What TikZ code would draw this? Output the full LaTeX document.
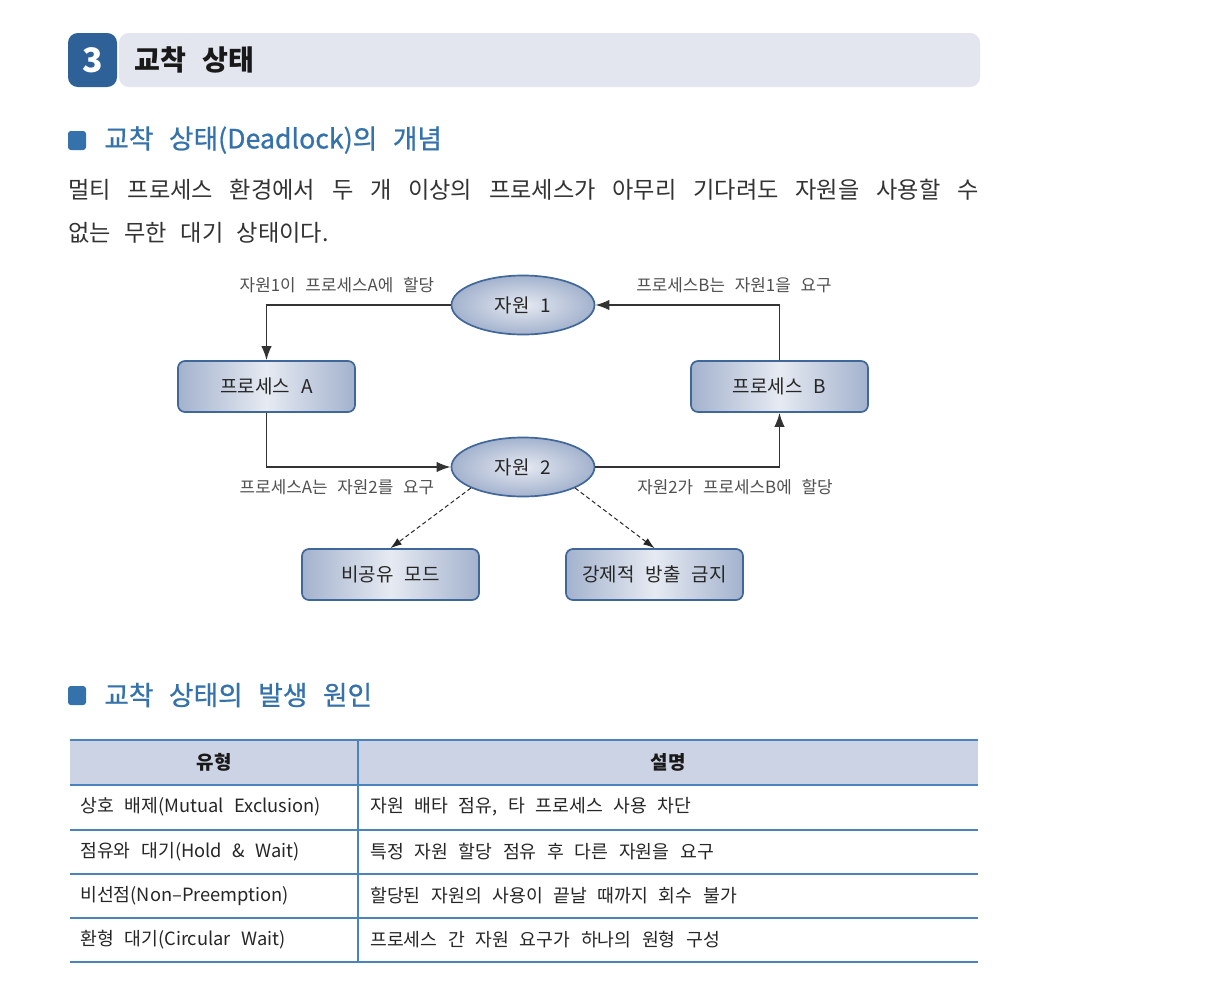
\documentclass[tikz,border=0pt]{standalone}
\usepackage{fontspec}
\setmainfont[WordSpace=2.6]{Noto Sans CJK KR}
\newfontfamily\medfont[WordSpace=2.6,FakeBold=0.8]{Noto Sans CJK KR}
\usetikzlibrary{calc}
\usetikzlibrary{arrows.meta}
\usetikzlibrary{shapes.geometric}
\definecolor{numblue}{HTML}{2D6198}
\definecolor{barbg}{HTML}{E3E6EE}
\definecolor{secblue}{HTML}{3572AC}
\definecolor{edgeblue}{HTML}{40679A}
\definecolor{shdark}{HTML}{A3B2CD}
\definecolor{shlight}{HTML}{E6EAF2}
\definecolor{labgray}{HTML}{505050}
\definecolor{thead}{HTML}{CBD3E4}
\definecolor{tline}{HTML}{4B84BD}
\tikzset{
	procbox/.style={draw=edgeblue, line width=1.2pt, rounded corners=5pt, left color=shdark, right color=shdark, middle color=shlight, minimum width=4.425cm, minimum height=1.275cm, font=\fontsize{13.5}{16}\selectfont, text=black!85},
	resell/.style={ellipse, draw=edgeblue, line width=1.2pt, inner color=shlight, outer color=shdark, minimum width=3.575cm, minimum height=1.475cm, inner sep=0pt, font=\fontsize{13.5}{16}\selectfont, text=black!85},
	lab/.style={text=labgray, font=\fontsize{12}{14}\selectfont},
	conn/.style={line width=1.2pt, black!80, -{Latex[length=10pt,width=7.5pt]}},
	dconn/.style={line width=0.7pt, black!85, densely dashed, -{Latex[length=8pt,width=5.5pt]}},
	sect/.style={anchor=west, inner sep=0pt, text=secblue, font=\fontsize{19}{22}\medfont},
	cell/.style={anchor=west, inner sep=0pt, text=black!85, font=\fontsize{13}{16}\selectfont},
}
\begin{document}
\begin{tikzpicture}[x=0.025cm,y=-0.025cm]
	\useasboundingbox[fill=white] (0,0) rectangle (1206,1000);
	\fill[barbg, rounded corners=7pt] (119,33) rectangle (980,87);
	\fill[numblue, rounded corners=7pt] (68,33) rectangle (117,87);
	\node[text=white, font=\fontsize{24}{28}\selectfont\bfseries] (num) at (92.5,60) {3};
	\node[anchor=west, inner sep=0pt, text=black!90, font=\fontsize{20}{24}\selectfont\bfseries] (title) at (134,60) {교착 상태};
	\fill[secblue, rounded corners=2pt] (68,131) rectangle (86,150);
	\node[sect] (sec1) at (104,140) {교착 상태(Deadlock)의 개념};
	\node[anchor=west, inner sep=0pt, text=black!80, font=\fontsize{16.5}{20}\selectfont] (body1) at (68,190) {\makebox[22.75cm][s]{멀티 프로세스 환경에서 두 개 이상의 프로세스가 아무리 기다려도 자원을 사용할 수}};
	\node[anchor=west, inner sep=0pt, text=black!80, font=\fontsize{16.5}{20}\selectfont] (body2) at (68,233) {없는 무한 대기 상태이다.};

	\node[resell] (r1) at (523,305) {자원 1};
	\node[resell] (r2) at (523,467) {자원 2};
	\node[procbox] (pa) at (266.5,386.5) {프로세스 A};
	\node[procbox] (pb) at (779.5,386.5) {프로세스 B};
	\node[procbox] (np) at (390.5,574.5) {비공유 모드};
	\node[procbox] (kj) at (654.5,574.5) {강제적 방출 금지};
	\draw[conn] (r1.west) -| (pa.north);
	\draw[conn] (pa.south) |- (r2.west);
	\draw[conn] (r2.east) -| (pb.south);
	\draw[conn] (pb.north) |- (r1.east);
	\draw[dconn] (r2.202) -- (np.north);
	\draw[dconn] (r2.-22) -- (kj.north);
	\node[lab] (l1) at (337,285) {자원1이 프로세스A에 할당};
	\node[lab] (l2) at (337,487) {프로세스A는 자원2를 요구};
	\node[lab] (l3) at (735,487) {자원2가 프로세스B에 할당};
	\node[lab] (l4) at (734,285) {프로세스B는 자원1을 요구};

	\fill[secblue, rounded corners=2pt] (68,686) rectangle (86,705);
	\node[sect] (sec2) at (104,695) {교착 상태의 발생 원인};
	\fill[thead] (70,740) rectangle (978,785);
	\foreach \y in {785,830,874,918}
	\draw[tline, line width=0.8pt] (70,\y) -- (978,\y);
	\draw[tline, line width=1.2pt] (70,740) -- (978,740);
	\draw[tline, line width=1.2pt] (70,962) -- (978,962);
	\draw[tline, line width=0.8pt] (358,740) -- (358,962);
	\node[text=black!90, font=\fontsize{13.5}{16}\selectfont\bfseries] (h1) at (214,762) {유형};
	\node[text=black!90, font=\fontsize{13.5}{16}\selectfont\bfseries] (h2) at (668,762) {설명};
	\foreach \i/\y/\a/\b in {1/807/{상호 배제(Mutual Exclusion)}/{자원 배타 점유, 타 프로세스 사용 차단},
		2/852/{점유와 대기(Hold \& Wait)}/{특정 자원 할당 점유 후 다른 자원을 요구},
		3/896/{비선점(Non–Preemption)}/{할당된 자원의 사용이 끝날 때까지 회수 불가},
		4/940/{환형 대기(Circular Wait)}/{프로세스 간 자원 요구가 하나의 원형 구성}}
	{
		\node[cell] (ty\i) at (80,\y) {\a};
		\node[cell] (ds\i) at (370,\y) {\b};
	}
\end{tikzpicture}
\end{document}
